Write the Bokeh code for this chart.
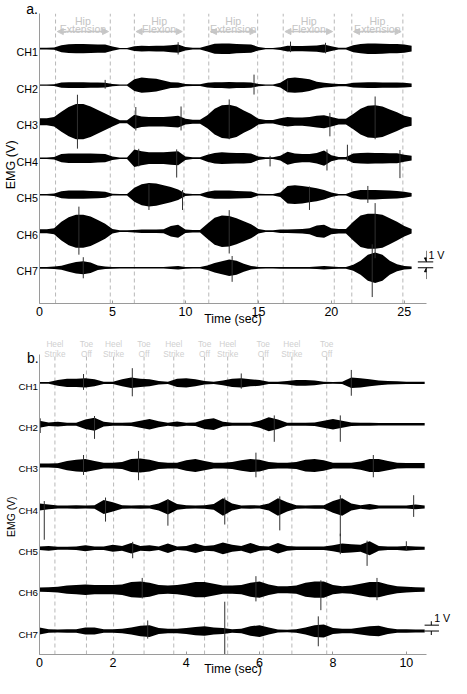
import numpy as np
from bokeh.plotting import figure
from bokeh.layouts import column
from bokeh.models import ColumnDataSource, FixedTicker, Range1d, Arrow, NormalHead
from bokeh.embed import file_html
from bokeh.resources import INLINE
from bokeh.core.properties import value

FONT = "Liberation Sans"

channels = ["CH1", "CH2", "CH3", "CH4", "CH5", "CH6", "CH7"]

# ---------------- panel a: hip extension / flexion (envelope half-amplitude, V) ----
a_time = np.arange(0, 25.51, 0.5)
a_ch1 = [0.15, 0.15, 0.2, 0.6, 0.75, 0.8, 0.8, 0.75, 0.7, 0.7,
         0.35, 0.12, 0.12, 0.4, 0.5, 0.45, 0.5, 0.5, 0.6, 0.7,
         0.3, 0.15, 0.15, 0.5, 0.85, 0.9, 0.9, 0.8, 0.75, 0.7,
         0.3, 0.12, 0.12, 0.25, 0.5, 0.45, 0.45, 0.5, 0.55, 0.7,
         0.4, 0.15, 0.15, 0.6, 0.8, 0.9, 0.9, 0.85, 0.8, 0.8,
         0.7, 0.5]
a_ch2 = [0.12, 0.12, 0.15, 0.45, 0.5, 0.5, 0.5, 0.45, 0.45, 0.4,
         0.2, 0.12, 0.12, 1.0, 1.3, 1.2, 1.1, 0.8, 0.5, 0.45,
         0.2, 0.15, 0.15, 0.4, 0.5, 0.5, 0.55, 0.5, 0.5, 0.45,
         0.2, 0.12, 0.12, 0.4, 1.2, 1.3, 1.2, 1.0, 0.6, 0.4,
         0.3, 0.2, 0.2, 0.4, 0.45, 0.5, 0.5, 0.45, 0.45, 0.45,
         0.4, 0.3]
a_ch3 = [0.6, 0.6, 0.8, 1.7, 2.5, 3.0, 3.0, 2.6, 2.0, 1.4,
         0.8, 0.25, 0.25, 1.2, 0.9, 0.8, 0.8, 0.8, 0.9, 1.0,
         0.5, 0.35, 0.35, 1.1, 2.2, 2.8, 2.9, 2.6, 1.9, 1.3,
         0.5, 0.3, 0.3, 0.6, 0.8, 0.7, 0.7, 0.8, 1.0, 1.1,
         0.8, 0.5, 0.5, 1.3, 2.2, 2.7, 2.8, 2.6, 2.1, 1.6,
         1.0, 0.7]
a_ch4 = [0.12, 0.12, 0.2, 0.7, 0.8, 0.8, 0.8, 0.8, 0.75, 0.7,
         0.3, 0.12, 0.12, 1.5, 1.2, 1.0, 1.0, 1.0, 1.1, 1.2,
         0.3, 0.15, 0.15, 0.6, 0.9, 1.0, 0.95, 0.9, 0.9, 0.8,
         0.3, 0.15, 0.15, 0.4, 1.1, 0.8, 0.7, 0.7, 0.9, 1.3,
         0.5, 0.2, 0.2, 0.8, 0.9, 0.95, 0.9, 0.9, 0.85, 0.85,
         0.6, 0.4]
a_ch5 = [0.12, 0.12, 0.2, 0.6, 0.7, 0.7, 0.7, 0.65, 0.6, 0.5,
         0.15, 0.12, 0.12, 1.2, 1.8, 2.0, 1.9, 1.6, 1.3, 0.9,
         0.2, 0.12, 0.12, 0.5, 0.7, 0.7, 0.7, 0.65, 0.6, 0.55,
         0.15, 0.12, 0.12, 0.4, 1.5, 1.6, 1.5, 1.3, 1.1, 0.8,
         0.4, 0.12, 0.12, 0.6, 0.8, 0.8, 0.8, 0.75, 0.7, 0.65,
         0.5, 0.3]
a_ch6 = [0.35, 0.35, 0.5, 1.6, 2.4, 2.8, 2.8, 2.5, 1.9, 1.3,
         0.4, 0.15, 0.15, 0.2, 0.3, 0.3, 0.3, 0.35, 0.9, 1.1,
         0.3, 0.2, 0.2, 1.3, 2.3, 2.7, 2.6, 2.2, 1.7, 1.2,
         0.4, 0.15, 0.15, 0.3, 0.3, 0.35, 0.4, 0.5, 1.0, 1.1,
         0.5, 0.4, 0.4, 1.6, 2.7, 3.0, 3.0, 2.8, 2.2, 1.6,
         0.9, 0.4]
a_ch7 = [0.15, 0.15, 0.2, 0.35, 0.7, 1.0, 1.1, 0.9, 0.4, 0.2,
         0.15, 0.12, 0.12, 0.12, 0.12, 0.12, 0.12, 0.12, 0.2, 0.3,
         0.15, 0.12, 0.12, 0.4, 0.8, 1.1, 1.4, 1.2, 0.7, 0.3,
         0.15, 0.12, 0.12, 0.15, 0.15, 0.15, 0.15, 0.15, 0.2, 0.3,
         0.2, 0.15, 0.15, 0.5, 1.2, 2.2, 2.6, 2.2, 1.2, 0.6,
         0.3, 0.2]
a_phase_start = [1.1, 6.5, 11.6, 16.7, 21.4]
a_phase_end = [4.85, 9.9, 14.95, 20.2, 24.9]
a_phase_top = ["Hip", "Hip", "Hip", "Hip", "Hip"]
a_phase_bottom = ["Extension", "Flexion", "Extension", "Flexion", "Extension"]
a_ticks = [0, 5, 10, 15, 20, 25]
# isolated large spikes: channel index, time (s), upward V, downward V
a_spike_ch = [0, 0, 0, 1, 1, 1, 2, 2, 2, 2, 2, 2, 3, 3, 3, 3, 3, 3, 4, 4, 4, 4, 5, 5, 5, 6, 6, 6]
a_spike_t = [9.5, 17.2, 19.6, 4.5, 14.7, 17.0, 2.6, 6.6, 9.7, 13.0, 19.9, 23.0,
             6.8, 9.4, 15.8, 19.7, 21.1, 24.7, 7.5, 9.8, 18.5, 22.5, 2.7, 13.0, 23.0,
             3.0, 13.2, 22.8]
a_spike_up = [1.1, 1.2, 1.0, 0.9, 1.8, 0.8, 4.6, 2.5, 2.6, 3.8, 1.5, 4.3,
              1.6, 1.5, 0.4, 1.5, 2.3, 1.4, 1.8, 0.8, 1.4, 1.5, 4.2, 3.6, 4.8,
              1.8, 2.0, 4.0]
a_spike_dn = [1.0, 0.6, 0.8, 0.6, 1.6, 1.2, 4.6, 1.5, 1.5, 3.0, 2.5, 3.0,
              1.4, 3.3, 1.4, 2.1, 0.5, 3.4, 2.6, 2.6, 2.6, 1.4, 4.0, 3.8, 4.6,
              1.8, 2.4, 5.0]

# ---------------- panel b: gait (heel strike / toe off) ----------------------------
b_time = np.arange(0, 10.51, 0.25)
b_ch1 = [0.15, 0.15, 0.5, 0.7, 0.7, 0.8, 0.6, 0.2, 0.2, 0.6, 0.9, 0.7,
         0.6, 0.3, 0.2, 0.7, 0.8, 0.6, 0.3, 0.2, 0.4, 0.7, 0.8, 0.6,
         0.5, 0.2, 0.2, 0.3, 0.5, 0.5, 0.4, 0.2, 0.15, 0.2, 0.9, 0.8,
         0.6, 0.4, 0.3, 0.25, 0.2, 0.2, 0.2]
b_ch2 = [0.6, 0.3, 0.4, 0.25, 0.25, 0.8, 1.1, 0.4, 0.25, 0.25, 0.3, 0.6,
         0.9, 0.5, 0.25, 0.45, 0.25, 0.3, 0.8, 1.0, 0.4, 0.25, 0.25, 0.25,
         0.6, 1.2, 0.8, 0.25, 0.25, 0.25, 0.3, 0.6, 0.9, 0.6, 0.3, 0.25,
         0.25, 0.2, 0.2, 0.2, 0.2, 0.2, 0.2]
b_ch3 = [0.35, 0.35, 0.4, 0.8, 1.0, 1.1, 0.8, 0.5, 0.5, 0.6, 1.1, 1.2,
         1.0, 0.6, 0.5, 0.5, 0.9, 1.1, 0.8, 0.5, 0.5, 0.6, 0.9, 1.1,
         1.0, 0.6, 0.5, 0.5, 0.6, 1.0, 1.1, 0.9, 0.5, 0.5, 0.5, 0.7,
         1.1, 1.1, 0.8, 0.5, 0.45, 0.45, 0.45]
b_ch4 = [0.6, 0.4, 0.25, 0.25, 0.3, 0.25, 0.3, 1.2, 0.8, 0.3, 0.25, 0.3,
         0.25, 0.6, 1.3, 0.5, 0.3, 0.25, 0.3, 0.5, 1.5, 0.6, 0.25, 0.3,
         0.25, 0.6, 1.5, 0.8, 0.3, 0.25, 0.3, 0.3, 1.0, 1.5, 0.6, 0.3,
         0.5, 0.25, 0.25, 0.25, 0.25, 0.4, 0.25]
b_ch5 = [0.3, 0.4, 0.25, 0.25, 0.3, 0.5, 0.3, 0.3, 0.6, 0.4, 0.9, 0.4,
         0.5, 0.3, 0.8, 0.3, 0.4, 0.8, 0.4, 0.5, 1.0, 0.6, 0.4, 0.9,
         0.4, 0.3, 0.9, 0.4, 0.3, 0.3, 0.3, 0.3, 0.5, 0.8, 0.7, 0.6,
         1.2, 0.4, 0.3, 0.3, 0.4, 0.3, 0.25]
b_ch6 = [0.35, 0.4, 0.5, 0.7, 0.8, 0.9, 0.8, 0.8, 0.8, 0.9, 1.3, 1.4,
         1.2, 0.8, 0.7, 0.8, 1.0, 1.3, 1.3, 1.0, 0.7, 0.7, 0.8, 1.2,
         1.4, 0.9, 0.6, 0.6, 0.7, 1.2, 1.4, 1.4, 0.8, 0.6, 0.7, 1.0,
         1.3, 1.3, 0.9, 0.6, 0.5, 0.4, 0.35]
b_ch7 = [0.6, 0.3, 0.25, 0.3, 0.3, 0.6, 0.6, 0.3, 0.3, 0.4, 0.6, 0.9,
         1.0, 0.5, 0.4, 0.4, 0.5, 0.7, 0.8, 0.6, 0.5, 0.3, 0.4, 0.8,
         1.0, 0.6, 0.25, 0.2, 0.3, 0.6, 1.0, 1.1, 0.5, 0.4, 0.4, 0.6,
         0.8, 0.9, 0.5, 0.3, 0.3, 0.25, 0.25]
b_events = [0.42, 1.28, 2.02, 2.85, 3.66, 4.5, 5.13, 6.1, 6.88, 7.83]
b_event_top = ["Heel", "Toe", "Heel", "Toe", "Heel", "Toe", "Heel", "Toe", "Heel", "Toe"]
b_event_bottom = ["Strike", "Off", "Strike", "Off", "Strike", "Off", "Strike", "Off", "Strike", "Off"]
b_ticks = [0, 2, 4, 6, 8, 10]
b_spike_ch = [0, 0, 0, 0, 1, 1, 1, 1, 2, 2, 2, 2, 3, 3, 3, 3, 3, 3, 3,
              4, 4, 4, 4, 5, 5, 5, 5, 6, 6, 6]
b_spike_t = [2.53, 8.5, 1.2, 5.5, 0.02, 1.5, 6.4, 8.2, 2.7, 5.9, 1.2, 9.1,
             0.13, 1.8, 3.5, 5.05, 6.55, 8.2, 10.2, 2.54, 8.2, 8.93, 10.0,
             7.67, 5.9, 2.8, 9.2, 5.05, 7.6, 2.95]
b_spike_up = [2.5, 2.2, 1.5, 1.6, 1.0, 1.4, 1.5, 1.5, 2.5, 2.2, 1.8, 1.8,
              1.0, 1.6, 1.3, 1.6, 1.8, 2.0, 2.0, 1.1, 2.5, 1.3, 1.2,
              1.6, 2.3, 2.0, 2.0, 5.0, 2.5, 1.8]
b_spike_dn = [2.3, 2.2, 1.2, 1.0, 1.5, 2.5, 3.0, 3.0, 2.5, 2.0, 1.6, 2.0,
              5.6, 2.5, 3.2, 3.0, 4.0, 5.0, 1.7, 1.7, 1.0, 3.0, 0.3,
              3.5, 2.0, 1.5, 1.8, 4.0, 2.6, 1.3]


def build(g, time, envs, spk, ev_x, ev_top, ev_bot, ev_mid, ticks):
    fx = lambda rx: (rx - g["x0"]) / g["pps"]
    fy = lambda ry: (g["y0"] - ry) / 6.0
    p = figure(width=451, height=g["h"],
               x_range=Range1d(0, fx(g["right"])),
               y_range=Range1d(fy(g["bottom"]), fy(g["top"])),
               output_backend="svg", toolbar_location=None,
               min_border_left=g["bl"], min_border_right=g["br"],
               min_border_top=g["bt"], min_border_bottom=g["bb"])
    p.grid.visible = False
    p.outline_line_color = None
    p.background_fill_color = "white"
    p.border_fill_color = "white"

    ax = p.xaxis[0]
    ax.ticker = FixedTicker(ticks=ticks)
    ax.major_label_text_font = FONT
    ax.major_label_text_font_size = g["tick_fs"]
    ax.major_label_text_color = "black"
    ax.axis_line_color = "#9a9a9a"
    ax.major_tick_line_color = "#9a9a9a"
    ax.major_tick_in = 3
    ax.major_tick_out = 0
    ax.minor_tick_line_color = None
    ax.major_label_standoff = 3
    ax.axis_label = "Time (sec)"
    ax.axis_label_text_font = FONT
    ax.axis_label_text_font_size = "12.3px"
    ax.axis_label_text_font_style = "normal"
    ax.axis_label_text_color = "black"
    ax.axis_label_standoff = g["lab_so"]
    ay = p.yaxis[0]
    ay.ticker = FixedTicker(ticks=[])
    ay.major_label_text_font_size = "0px"
    ay.major_tick_line_color = None
    ay.minor_tick_line_color = None
    ay.axis_line_color = "#9a9a9a"

    offs = [-i * g["sp"] / 6.0 for i in range(len(channels))]

    # dashed event lines
    p.segment(x0=ev_x, x1=ev_x, y0=[fy(g["bottom"])] * len(ev_x), y1=[fy(g["top"])] * len(ev_x),
              line_color="#b8b8b8", line_width=1, line_dash="4 3")

    # traces
    for off, env in zip(offs, envs):
        env = np.array(env)
        p.varea(x=time, y1=off + env, y2=off - env, fill_color="black")
    sc, st, su, sd = spk
    p.segment(x0=st, x1=st, y0=[offs[c] - d for c, d in zip(sc, sd)],
              y1=[offs[c] + u for c, u in zip(sc, su)], line_color="#303030", line_width=1)

    def txt(xs, ys, texts, fs, color="black", align="left", baseline="alphabetic", angle=0.0):
        src = ColumnDataSource(dict(x=xs, y=ys, text=texts))
        r = p.text(x="x", y="y", text="text", source=src, text_font=value(FONT),
                   text_font_size=fs, text_color=color, text_align=align,
                   text_baseline=baseline, angle=angle)
        r.level = "overlay"

    # channel labels
    txt([fx(g["ch_right"])] * 7, [o - g["ch_drop"] / 6.0 for o in offs], channels, g["ch_fs"], align="right")
    # event labels
    txt(ev_mid, [fy(g["ev_y1"])] * len(ev_mid), ev_top, g["ev_fs"], color=g["ev_col"], align="center")
    txt(ev_mid, [fy(g["ev_y2"])] * len(ev_mid), ev_bot, g["ev_fs"], color=g["ev_col"], align="center")
    # axis title and panel letter
    txt([fx(g["emg_x"])], [fy(g["emg_y"])], ["EMG (V)"], g["emg_fs"], align="center",
        baseline="middle", angle=np.pi / 2)
    txt([fx(g["let_x"])], [fy(g["let_y"])], [g["letter"]], g["let_fs"])
    txt([fx(g["v_x"])], [fy(g["v_y"])], ["1 V"], g["v_fs"])

    # 1 V scale bar
    o7 = offs[-1]
    sb = p.segment(x0=[fx(g["sb_l"])] * 2, x1=[fx(g["sb_r"])] * 2, y0=[o7, o7 + 1.0], y1=[o7, o7 + 1.0],
                   line_color="black", line_width=1)
    sb.level = "overlay"
    src = ColumnDataSource(dict(xs=[fx(g["sb_a"])] * 2, xe=[fx(g["sb_a"])] * 2,
                                ys=[fy(g["sb_top"]), fy(g["sb_bot"])], ye=[o7 + 1.0, o7]))
    p.add_layout(Arrow(end=NormalHead(size=4, fill_color="black", line_color="black"),
                       x_start="xs", y_start="ys", x_end="xe", y_end="ye", source=src,
                       line_color="black", line_width=1))
    return p, fx, fy


ga = dict(x0=38.7, pps=15.17, y0=49.0, sp=37.4, right=441, top=13, bottom=310, h=328,
          bl=37, br=25, bt=13, bb=25, tick_fs="12.5px", lab_so=-7,
          ch_right=37, ch_drop=3.7, ch_fs="10.7px",
          ev_y1=20.2, ev_y2=28.5, ev_fs="10.6px", ev_col="#c4c4c4",
          emg_x=9, emg_y=168, emg_fs="12.6px",
          let_x=25, let_y=8.3, letter="a.", let_fs="14px",
          v_x=443, v_y=260, v_fs="10.7px",
          sb_l=432, sb_r=448, sb_a=441, sb_top=256, sb_bot=285)
gb = dict(x0=40.0, pps=38.2, y0=391.0, sp=42.33, right=443, top=362, bottom=669, h=350,
          bl=39, br=23, bt=26, bb=24, tick_fs="12.5px", lab_so=-8,
          ch_right=38.5, ch_drop=3.3, ch_fs="9.8px",
          ev_y1=351, ev_y2=361, ev_fs="8.3px", ev_col="#cfcfcf",
          emg_x=11, emg_y=528, emg_fs="10.4px",
          let_x=27, let_y=366, letter="b.", let_fs="14px",
          v_x=451, v_y=632, v_fs="10.7px",
          sb_l=441, sb_r=456, sb_a=448, sb_top=621, sb_bot=660)

a_mid = [(s + e) / 2 for s, e in zip(a_phase_start, a_phase_end)]
pa, fxa, fya = build(ga, a_time, [a_ch1, a_ch2, a_ch3, a_ch4, a_ch5, a_ch6, a_ch7],
                     (a_spike_ch, a_spike_t, a_spike_up, a_spike_dn),
                     a_phase_start + a_phase_end, a_phase_top, a_phase_bottom, a_mid, a_ticks)
arr_src = ColumnDataSource(dict(xs=[s + 0.12 for s in a_phase_start], xe=[e - 0.12 for e in a_phase_end],
                                y=[fya(31.5)] * len(a_phase_start)))
pa.add_layout(Arrow(start=NormalHead(size=6, fill_color="#c8c8c8", line_color="#c8c8c8"),
                    end=NormalHead(size=6, fill_color="#c8c8c8", line_color="#c8c8c8"),
                    x_start="xs", x_end="xe", y_start="y", y_end="y", source=arr_src,
                    line_color="#c8c8c8", line_width=1.5))

pb, fxb, fyb = build(gb, b_time, [b_ch1, b_ch2, b_ch3, b_ch4, b_ch5, b_ch6, b_ch7],
                     (b_spike_ch, b_spike_t, b_spike_up, b_spike_dn),
                     b_events, b_event_top, b_event_bottom, b_events, b_ticks)

layout = column(pa, pb)
open("out.html", "w").write(file_html(layout, INLINE))
